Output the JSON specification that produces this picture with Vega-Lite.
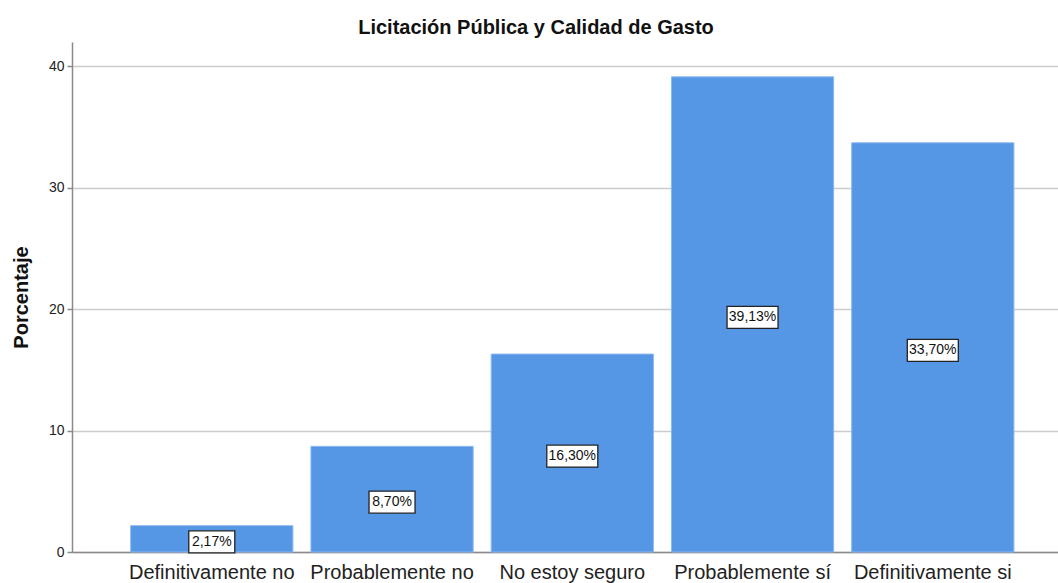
{
  "$schema": "https://vega.github.io/schema/vega-lite/v6.json",
  "width": 986,
  "height": 510,
  "autosize": "none",
  "padding": {"left": 72, "top": 42, "right": 0, "bottom": 31},
  "background": "white",
  "config": {
    "font": "Liberation Sans",
    "view": {"stroke": null}
  },
  "title": {
    "text": "Licitación Pública y Calidad de Gasto",
    "font": "Liberation Sans",
    "fontSize": 20,
    "fontWeight": "bold",
    "color": "#111111",
    "anchor": "middle",
    "frame": "group",
    "dx": -29,
    "dy": 20,
    "offset": 8,
    "baseline": "alphabetic"
  },
  "data": {
    "values": [
      {"categoria": "Definitivamente no", "porcentaje": 2.17, "etiqueta": "2,17%"},
      {"categoria": "Probablemente no", "porcentaje": 8.70, "etiqueta": "8,70%"},
      {"categoria": "No estoy seguro", "porcentaje": 16.30, "etiqueta": "16,30%"},
      {"categoria": "Probablemente sí", "porcentaje": 39.13, "etiqueta": "39,13%"},
      {"categoria": "Definitivamente si", "porcentaje": 33.70, "etiqueta": "33,70%"}
    ]
  },
  "transform": [{"calculate": "datum.porcentaje / 2", "as": "mitad"}],
  "encoding": {
    "x": {
      "field": "categoria",
      "type": "nominal",
      "sort": null,
      "scale": {"paddingInner": 0.1, "paddingOuter": 0.285, "align": 0.571},
      "axis": {
        "title": null,
        "labelAngle": 0,
        "labelFontSize": 20,
        "labelFont": "Liberation Sans",
        "labelColor": "#222222",
        "ticks": false,
        "domainColor": "#8a8a8a",
        "domainWidth": 1.5,
        "labelPadding": 10,
        "grid": false
      }
    }
  },
  "layer": [
    {
      "mark": {"type": "bar", "fill": "#5596e5", "stroke": "#8db8ef", "strokeWidth": 1},
      "encoding": {
        "y": {
          "field": "porcentaje",
          "type": "quantitative",
          "scale": {"domain": [0, 42], "nice": false},
          "axis": {
            "title": "Porcentaje",
            "titleFont": "Liberation Sans",
            "titleFontSize": 20,
            "titleFontWeight": "bold",
            "titleColor": "#111111",
            "titleX": -45,
            "titleY": 255,
            "titleBaseline": "alphabetic",
            "values": [0, 10, 20, 30, 40],
            "grid": true,
            "gridColor": "#cccccc",
            "gridWidth": 1.5,
            "domainColor": "#8a8a8a",
            "domainWidth": 1.5,
            "tickColor": "#8a8a8a",
            "tickSize": 5,
            "tickWidth": 1.5,
            "labelFontSize": 14,
            "labelFont": "Liberation Sans",
            "labelColor": "#222222",
            "labelPadding": 3
          }
        }
      }
    },
    {
      "mark": {"type": "point", "filled": true, "fill": "white", "stroke": "#222222", "strokeWidth": 1.3, "opacity": 1, "size": 2601},
      "encoding": {
        "y": {"field": "mitad", "type": "quantitative"},
        "yOffset": {"value": 3},
        "shape": {
          "field": "etiqueta",
          "type": "nominal",
          "legend": null,
          "scale": {
            "domain": ["2,17%", "8,70%", "16,30%", "39,13%", "33,70%"],
            "range": [
              "M-0.902,-0.431H0.902V0.431H-0.902Z",
              "M-0.902,-0.431H0.902V0.431H-0.902Z",
              "M-1,-0.431H1V0.431H-1Z",
              "M-1,-0.431H1V0.431H-1Z",
              "M-1,-0.431H1V0.431H-1Z"
            ]
          }
        }
      }
    },
    {
      "mark": {"type": "text", "font": "Liberation Sans", "fontSize": 14, "color": "#111111", "baseline": "middle", "align": "center", "dy": 3},
      "encoding": {
        "y": {"field": "mitad", "type": "quantitative"},
        "text": {"field": "etiqueta"}
      }
    }
  ]
}
